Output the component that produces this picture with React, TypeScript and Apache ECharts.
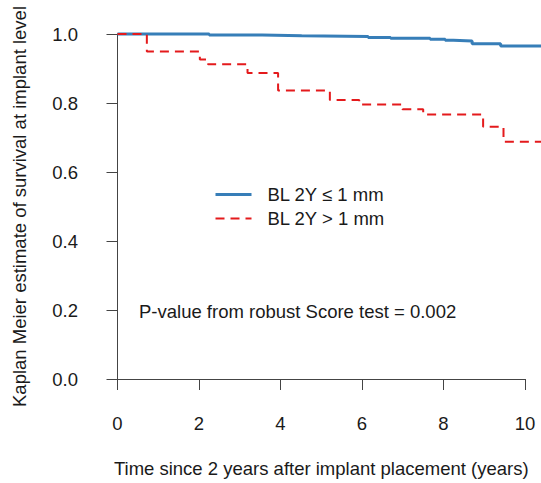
import React, { useEffect, useRef } from "react";
import * as echarts from "echarts";

const xTicks = [0, 2, 4, 6, 8, 10];
const yTicks = [0, 0.2, 0.4, 0.6, 0.8, 1.0];

const seriesNames = ["BL 2Y \u2264 1 mm", "BL 2Y > 1 mm"];

// Kaplan-Meier steps: [time, survival after event]
const lowLossTimes = [0, 2.25, 3.55, 4.52, 6.15, 6.7, 7.67, 8.04, 8.24, 8.7, 9.4, 10.39];
const lowLossSurv = [1.0, 0.997, 0.995, 0.993, 0.99, 0.9875, 0.985, 0.982, 0.98, 0.972, 0.965, 0.965];

const highLossTimes = [0, 0.72, 2.02, 2.22, 3.19, 3.94, 5.21, 5.93, 6.99, 7.5, 8.97, 9.47, 10.39];
const highLossSurv = [1.0, 0.949, 0.926, 0.912, 0.887, 0.836, 0.809, 0.796, 0.782, 0.767, 0.731, 0.688, 0.688];

const pValueText = "P-value from robust Score test = 0.002";
const xTitle = "Time since 2 years after implant placement (years)";
const yTitle = "Kaplan Meier estimate of survival at implant level";

const FONT = "'Liberation Sans', Arial, sans-serif";
const FS = 18.5;
const TXT = "#1a1a1a";
const AX = "#444";
const BLUE = "#377EB8";
const RED = "#E41A1C";
const DASH = [9, 6];

export default function App() {
  const ref = useRef<HTMLDivElement>(null);
  useEffect(() => {
    if (!ref.current) return;
    const chart = echarts.init(ref.current, null, { renderer: "svg" });
    const pairs = (t: number[], s: number[]) => t.map((v, i) => [v, s[i]]);
    chart.setOption({
      animation: false,
      backgroundColor: "#ffffff",
      textStyle: { fontFamily: FONT },
      grid: [
        { left: 117.5, right: 16, top: 34, bottom: 104 },
        { left: 117.5, right: 0, top: 34, bottom: 104 },
      ],
      legend: {
        orient: "vertical",
        left: 214,
        top: 185,
        padding: 0,
        itemWidth: 36,
        itemHeight: 14,
        itemGap: 5,
        itemStyle: { color: "transparent", borderWidth: 0, opacity: 0 },
        textStyle: { fontFamily: FONT, fontSize: FS, color: TXT, padding: [0, 0, 0, 11] },
        data: [
          { name: seriesNames[0], lineStyle: { color: BLUE, width: 3 } },
          { name: seriesNames[1], lineStyle: { color: RED, width: 2, type: DASH } },
        ],
      },
      xAxis: [
        {
          type: "value",
          gridIndex: 0,
          min: 0,
          max: 10,
          interval: 2,
          offset: 13.5,
          name: xTitle,
          nameLocation: "middle",
          nameGap: 66,
          nameTextStyle: { fontFamily: FONT, fontSize: FS, color: TXT },
          axisLine: { show: true, lineStyle: { color: AX, width: 1 } },
          axisTick: { show: true, length: 11, lineStyle: { color: AX } },
          axisLabel: {
            fontFamily: FONT,
            fontSize: FS,
            color: TXT,
            margin: 21,
            formatter: (v: number) => (xTicks.includes(v) ? String(v) : ""),
          },
          splitLine: { show: false },
        },
        {
          type: "value",
          gridIndex: 1,
          min: 0,
          max: 10.39,
          show: false,
        },
      ],
      yAxis: [
        {
          type: "value",
          gridIndex: 0,
          min: 0,
          max: 1,
          interval: 0.2,
          offset: 16.5,
          name: yTitle,
          nameLocation: "middle",
          nameGap: 72,
          nameTextStyle: { fontFamily: FONT, fontSize: FS, color: TXT },
          axisLine: { show: true, lineStyle: { color: AX, width: 1 } },
          axisTick: { show: true, length: 11, lineStyle: { color: AX } },
          axisLabel: {
            fontFamily: FONT,
            fontSize: FS,
            color: TXT,
            margin: 23,
            formatter: (v: number) => {
              const t = yTicks.find((y) => Math.abs(y - v) < 1e-9);
              return t === undefined ? "" : t.toFixed(1);
            },
          },
          splitLine: { show: false },
        },
        {
          type: "value",
          gridIndex: 1,
          min: 0,
          max: 1,
          show: false,
        },
      ],
      series: [
        {
          name: seriesNames[0],
          type: "line",
          xAxisIndex: 1,
          yAxisIndex: 1,
          step: "end",
          clip: false,
          symbol: "none",
          data: pairs(lowLossTimes, lowLossSurv),
          lineStyle: { color: BLUE, width: 3 },
          itemStyle: { color: BLUE },
          z: 2,
        },
        {
          name: seriesNames[1],
          type: "line",
          xAxisIndex: 1,
          yAxisIndex: 1,
          step: "end",
          clip: false,
          symbol: "none",
          data: pairs(highLossTimes, highLossSurv),
          lineStyle: { color: RED, width: 2, type: DASH },
          itemStyle: { color: RED },
          z: 3,
        },
      ],
      graphic: [
        {
          type: "text",
          left: 139,
          top: 302,
          style: {
            text: pValueText,
            fontFamily: FONT,
            fontSize: FS,
            fill: TXT,
          },
        },
      ],
    });
    return () => chart.dispose();
  }, []);
  return <div ref={ref} style={{ width: 541, height: 483, position: "absolute", left: 0, top: 0 }} />;
}
